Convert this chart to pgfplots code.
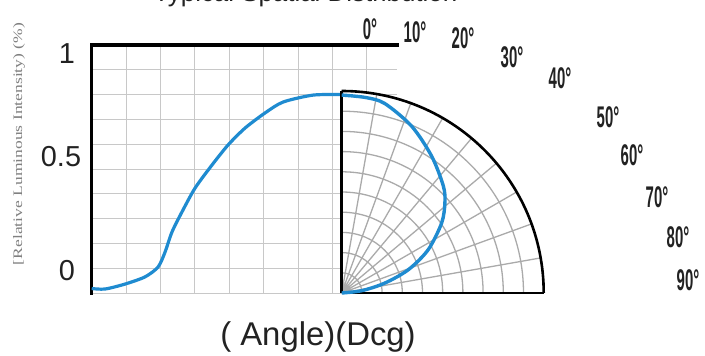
\documentclass[border=0pt]{standalone}
\usepackage{pgfplots}
\pgfplotsset{compat=1.18}
\usepgfplotslibrary{polar}
\usepackage{fontspec}
\setmainfont{Liberation Sans}
\newfontfamily\serifcond{Liberation Serif}
\definecolor{curve}{HTML}{1F8BD0}
\definecolor{gridc}{HTML}{C8C8C8}
\definecolor{txt}{HTML}{222222}
\newcommand{\dg}[1]{\scalebox{0.5}[1]{\fontsize{30}{30}\selectfont\bfseries #1°}}
\begin{document}
\begin{tikzpicture}
\useasboundingbox (0,0) rectangle (705bp,356bp);
\clip (0,0) rectangle (705bp,356bp);
% left cartesian chart
\begin{axis}[
  at={(91.7bp,63bp)}, anchor=south west,
  scale only axis, width=305.3bp, height=248bp,
  xmin=-90, xmax=19.9, ymin=0, ymax=1,
  xtick={-90,-77.62,-65.24,-52.86,-40.48,-28.10,-15.72,-3.34,9.04},
  ytick={0,0.1,0.2,0.3,0.4,0.5,0.6,0.7,0.8,0.9,1},
  xticklabels={}, yticklabels={},
  major tick length=0pt,
  grid=major, grid style={gridc, line width=0.9bp},
  axis line style={draw=none},
  clip=false]
\draw[line width=3.4bp, black, line cap=rect] (axis cs:-90,0.0) -- (axis cs:-90,1) -- (axis cs:19.9,1);
\addplot[curve, line width=3.2bp, smooth, tension=0.45] coordinates {
 (-90,0.018) (-85.2,0.016) (-78,0.036) (-70.8,0.065) (-66.1,0.105)
 (-63.6,0.165) (-61.1,0.246) (-57.5,0.327) (-52.8,0.423) (-46.7,0.516)
 (-40.9,0.597) (-34.8,0.665) (-27.6,0.726) (-21.1,0.770) (-10.3,0.798) (0,0.800)};
\end{axis}
% polar quarter
\begin{polaraxis}[
  at={(341.7bp,63bp)}, anchor=origin,
  scale only axis, width=404bp, height=404bp,
  xmin=0, xmax=90, ymin=0, ymax=1,
  xtick={0,10,...,90},
  ytick={0.1,0.2,0.3,0.4,0.5,0.6,0.7,0.8,0.9,1},
  xticklabels={}, yticklabels={},
  major tick length=0pt,
  grid=major, grid style={gridc!85!black, line width=1.3bp},
  axis background/.style={fill=white},
  axis line style={line width=2.6bp, black},
  clip=false]
\addplot[curve, line width=3.4bp, smooth, tension=0.5] coordinates {
 (90,0.98) (83,0.975) (77.2,0.962) (67.2,0.895) (56.6,0.81) (46.4,0.73)
 (41.1,0.678) (35,0.604) (26.6,0.479) (19.3,0.35) (13,0.22) (6.6,0.1) (0,0)};
\end{polaraxis}
% texts
\node[anchor=base west, font=\fontsize{26}{26}\selectfont, text=txt] at (150bp,354bp) {Typical Spatial Distribution};
\node[text=txt, font=\fontsize{29}{29}\selectfont] at (67bp,302bp) {1};
\node[text=txt, font=\fontsize{29}{29}\selectfont] at (61bp,199bp) {0.5};
\node[text=txt, font=\fontsize{29}{29}\selectfont] at (67bp,85bp) {0};
\node[rotate=90, text=gray, inner sep=0pt] at (19bp,212bp) {\resizebox{242bp}{9bp}{\serifcond [Relative Luminous Intensity) (\%)}};
\node[anchor=base, text=txt, font=\fontsize{33}{33}\selectfont] at (318bp,11bp) {( Angle)(Dcg)};
\node[text=txt] at (370bp,327bp) {\dg{0}};
\node[text=txt] at (415bp,324bp) {\dg{10}};
\node[text=txt] at (463bp,318bp) {\dg{20}};
\node[text=txt] at (512bp,299bp) {\dg{30}};
\node[text=txt] at (560bp,278bp) {\dg{40}};
\node[text=txt] at (608bp,239bp) {\dg{50}};
\node[text=txt] at (632bp,201bp) {\dg{60}};
\node[text=txt] at (657bp,159bp) {\dg{70}};
\node[text=txt] at (678bp,119bp) {\dg{80}};
\node[text=txt] at (688bp,76bp) {\dg{90}};
\end{tikzpicture}
\end{document}
